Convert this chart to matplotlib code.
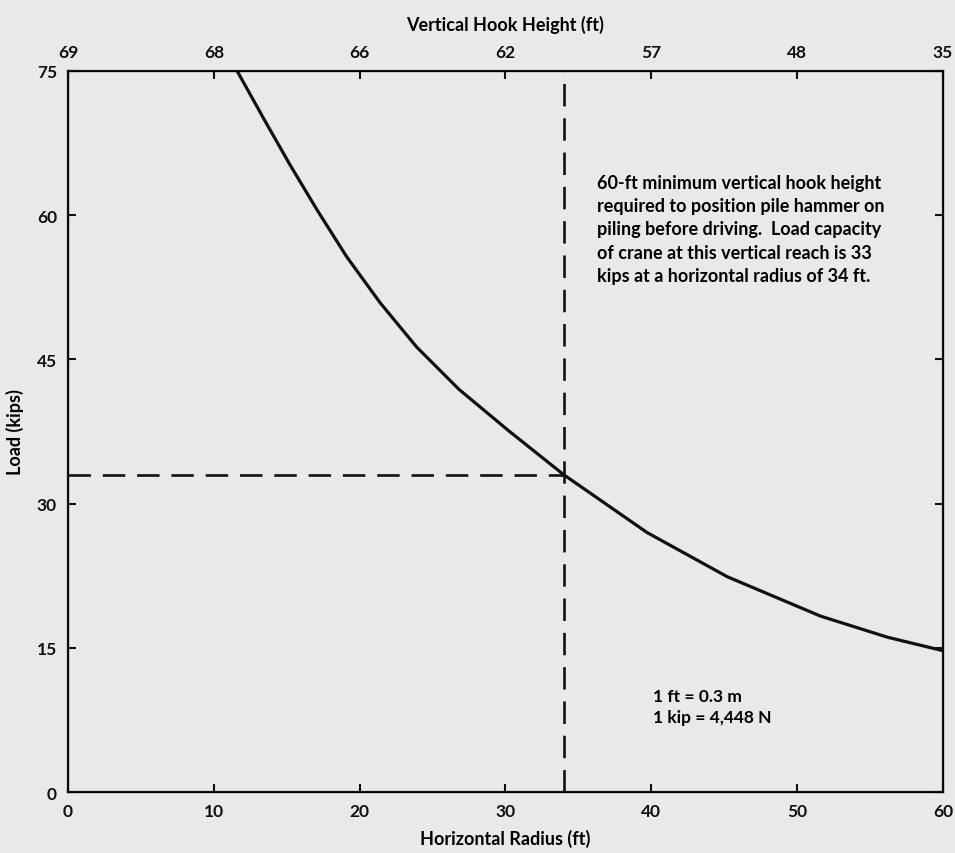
import numpy as np
from matplotlib import pyplot as plt

# values
radius = [11.6, 13.4, 15.2, 17.1, 19.1, 21.4, 23.9, 26.8, 30.2, 34.0, 39.7, 45.2, 51.6, 56.2, 60.0]
load = [75.0, 70.1, 65.3, 60.5, 55.7, 50.9, 46.3, 41.9, 37.6, 33.0, 27.0, 22.4, 18.3, 16.1, 14.7]

x_ticks = [0, 10, 20, 30, 40, 50, 60]
y_ticks = [0, 15, 30, 45, 60, 75]
hook_height = ["69", "68", "66", "62", "57", "48", "35"]

req_radius = 34
req_load = 33

note = ("60-ft minimum vertical hook height\n"
        "required to position pile hammer on\n"
        "piling before driving.  Load capacity\n"
        "of crane at this vertical reach is 33\n"
        "kips at a horizontal radius of 34 ft.")
units = "1 ft = 0.3 m\n1 kip = 4,448 N"

bg = "#e9e9e7"
ink = "#111111"
plt.rcParams['font.family'] = ['Lato', 'DejaVu Sans']
plt.rcParams['font.weight'] = 'bold'
plt.rcParams['axes.labelweight'] = 'bold'

fig = plt.figure(figsize=(9.55, 8.54), dpi=100, facecolor=bg)
ax1 = fig.add_axes([0.0712, 0.0714, 0.9162, 0.8443])
ax1.set_facecolor(bg)

ax1.plot(radius, load, color=ink, lw=2.3, solid_joinstyle='round')
ax1.plot([req_radius, req_radius], [0, 75], color=ink, lw=1.9,
         ls=(0, (8.5, 4.5)))
ax1.plot([0, req_radius], [req_load, req_load], color=ink, lw=1.9,
         ls=(0, (8.5, 4.5)))

ax1.set_xlim(0, 60)
ax1.set_ylim(0, 75)
ax1.set_xticks(x_ticks)
ax1.set_yticks(y_ticks)
ax1.tick_params(direction='in', length=6, width=1.5, labelsize=12.5,
                colors=ink, right=True, pad=8)
ax1.set_xlabel("Horizontal Radius (ft)", fontsize=13, labelpad=7)
ax1.set_ylabel("Load (kips)", fontsize=13, labelpad=9)
for s in ax1.spines.values():
    s.set_linewidth(1.6)
    s.set_color(ink)

# second x axis on top for hook height
ax2 = ax1.twiny()
ax2.set_xlim(ax1.get_xlim())
ax2.set_xticks(x_ticks)
ax2.set_xticklabels(hook_height)
ax2.tick_params(direction='in', length=6, width=1.5, labelsize=12.5,
                colors=ink, pad=8)
ax2.set_xlabel("Vertical Hook Height (ft)", fontsize=13, labelpad=10)

for lbl in ax1.get_xticklabels() + ax1.get_yticklabels() + ax2.get_xticklabels():
    lbl.set_fontweight('bold')

ax1.text(36.3, 64.3, note, fontsize=13, va='top', ha='left', linespacing=1.45)
ax1.text(40.1, 10.8, units, fontsize=12.5, va='top', ha='left', linespacing=1.4)

plt.savefig("out.png", dpi=100, facecolor=bg)
